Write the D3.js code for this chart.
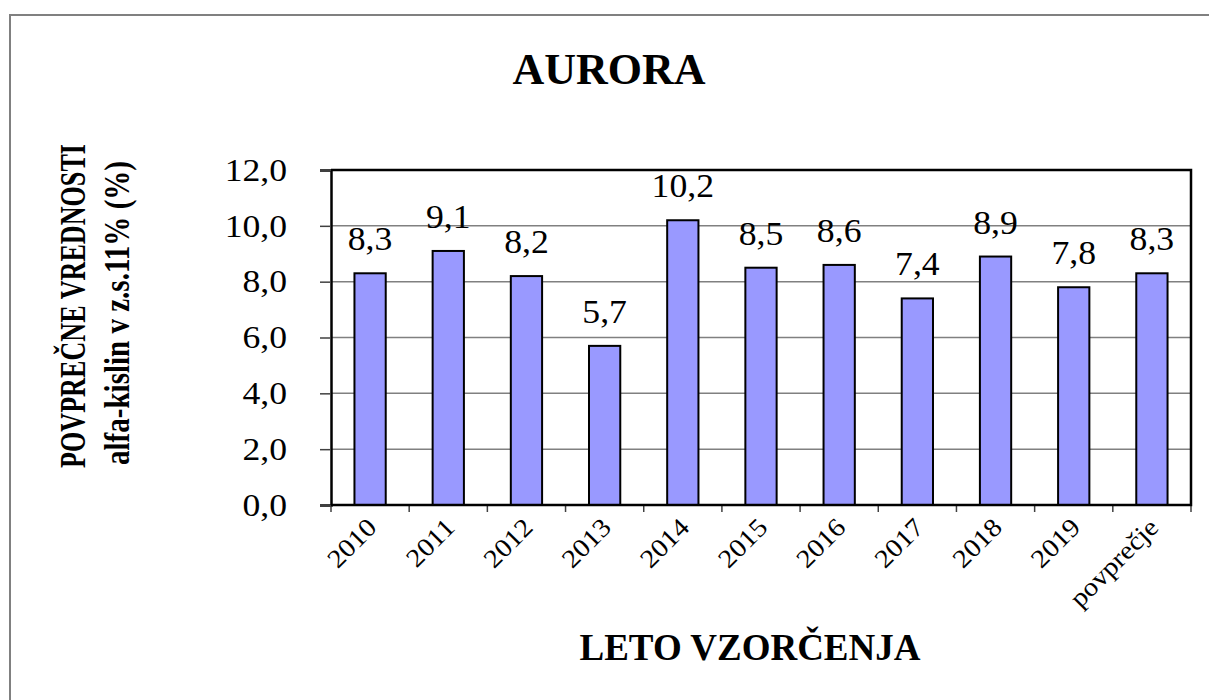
<!DOCTYPE html>
<html>
<head>
<meta charset="utf-8">
<script src="https://cdn.jsdelivr.net/npm/d3@7"></script>
<style>
  body { margin: 0; background: #fff; }
  text { font-family: "Liberation Serif", "Times New Roman", serif; fill: #000; }
</style>
</head>
<body>
<div id="chart"></div>
<script>
const categories = ["2010", "2011", "2012", "2013", "2014", "2015", "2016", "2017", "2018", "2019", "povprečje"];
const values = [8.3, 9.1, 8.2, 5.7, 10.2, 8.5, 8.6, 7.4, 8.9, 7.8, 8.3];
const yTicks = [0, 2, 4, 6, 8, 10, 12];
const title = "AURORA";
const yTitle = ["POVPREČNE VREDNOSTI", "alfa-kislin v z.s.11% (%)"];
const xTitle = "LETO VZORČENJA";

const width = 1209, height = 700;
const plot = {left: 331, top: 170, right: 1191, bottom: 505};
const fmt = v => v.toFixed(1).replace(".", ",");

const svg = d3.select("#chart").append("svg")
    .attr("width", width)
    .attr("height", height);

// outer frame
svg.append("rect")
    .attr("x", 10).attr("y", 15)
    .attr("width", 1220).attr("height", 720)
    .attr("fill", "none")
    .attr("stroke", "#808080")
    .attr("stroke-width", 2);

const x = d3.scaleBand()
    .domain(categories)
    .range([plot.left, plot.right])
    .paddingInner(0.6)
    .paddingOuter(0.3);
const band = d3.scaleBand().domain(categories).range([plot.left, plot.right]);

const y = d3.scaleLinear()
    .domain([0, 12])
    .range([plot.bottom, plot.top]);

// grid lines
svg.append("g")
    .selectAll("line")
    .data(yTicks.slice(1))
    .enter().append("line")
    .attr("x1", plot.left).attr("x2", plot.right)
    .attr("y1", d => y(d)).attr("y2", d => y(d))
    .attr("stroke", "#808080")
    .attr("stroke-width", 1.5);

// y axis
const yAxis = svg.append("g")
    .attr("transform", `translate(${plot.left},0)`)
    .call(d3.axisLeft(y).tickValues(yTicks).tickSize(11).tickPadding(33).tickFormat(fmt));
yAxis.select(".domain").attr("stroke", "#000").attr("stroke-width", 2.5);
yAxis.selectAll(".tick line").attr("stroke", "#404040").attr("stroke-width", 1.5);
yAxis.selectAll(".tick text")
    .attr("class", "stretch")
    .attr("data-k", 1.15)
    .attr("font-size", 31)
    .attr("dy", "0.33em");

// x axis ticks at category boundaries
svg.append("g")
    .selectAll("line")
    .data(categories.map(c => band(c)).concat([plot.right]))
    .enter().append("line")
    .attr("x1", d => d).attr("x2", d => d)
    .attr("y1", plot.bottom).attr("y2", plot.bottom + 7)
    .attr("stroke", "#404040")
    .attr("stroke-width", 1.5);

svg.append("g")
    .selectAll("text")
    .data(categories)
    .enter().append("text")
    .attr("class", "stretch")
    .attr("data-k", 1.1)
    .attr("font-size", 26)
    .attr("text-anchor", "end")
    .attr("transform", d => `translate(${band(d) + band.bandwidth() / 2 + 8},${plot.bottom + 24}) rotate(-45)`)
    .text(d => d);

// bars
svg.append("g")
    .selectAll("rect")
    .data(values)
    .enter().append("rect")
    .attr("x", (d, i) => x(categories[i]))
    .attr("y", d => y(d))
    .attr("width", x.bandwidth())
    .attr("height", d => plot.bottom - y(d))
    .attr("fill", "#9999FF")
    .attr("stroke", "#000")
    .attr("stroke-width", 2);

// plot border (top, right, bottom)
svg.append("path")
    .attr("d", `M${plot.left},${plot.top}H${plot.right}V${plot.bottom}H${plot.left}`)
    .attr("fill", "none")
    .attr("stroke", "#000")
    .attr("stroke-width", 2.5);

// value labels
svg.append("g")
    .selectAll("text")
    .data(values)
    .enter().append("text")
    .attr("class", "stretch")
    .attr("data-k", 1.05)
    .attr("font-size", 34)
    .attr("text-anchor", "middle")
    .attr("x", (d, i) => band(categories[i]) + band.bandwidth() / 2)
    .attr("y", d => y(d) - 23)
    .text(fmt);

// titles
svg.append("text")
    .attr("x", 609).attr("y", 84)
    .attr("text-anchor", "middle")
    .attr("font-size", 44)
    .attr("font-weight", "bold")
    .text(title);

svg.append("text")
    .attr("x", 750).attr("y", 660)
    .attr("text-anchor", "middle")
    .attr("font-size", 37)
    .attr("font-weight", "bold")
    .text(xTitle);

const yLens = [324, 304];
const yPos = [[85, 306], [129, 313]];
yTitle.forEach((t, i) => {
  svg.append("text")
      .attr("transform", `translate(${yPos[i][0]},${yPos[i][1]}) rotate(-90)`)
      .attr("text-anchor", "middle")
      .attr("font-size", 35)
      .attr("font-weight", "bold")
      .attr("textLength", yLens[i])
      .attr("lengthAdjust", "spacingAndGlyphs")
      .text(t);
});

// widen the regular texts a bit, as in the source picture
svg.selectAll("text.stretch").each(function() {
  const el = d3.select(this);
  const w = this.getComputedTextLength();
  el.attr("textLength", w * (+el.attr("data-k")))
    .attr("lengthAdjust", "spacingAndGlyphs");
});
</script>
</body>
</html>
